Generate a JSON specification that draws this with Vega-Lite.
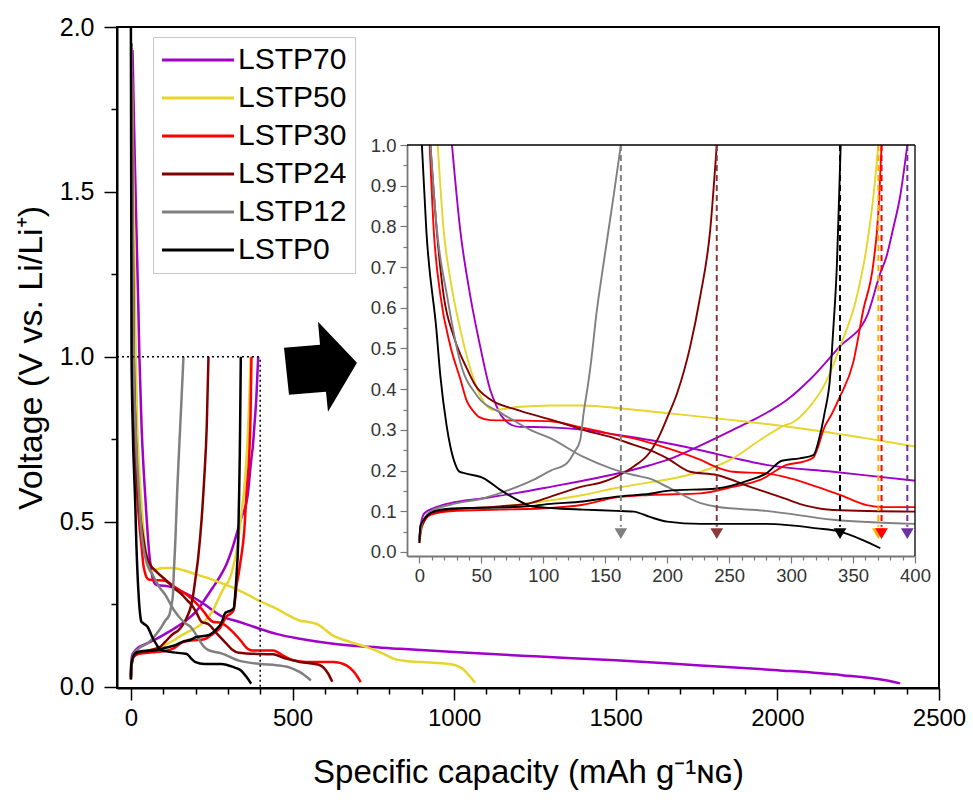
{
"$schema": "https://vega.github.io/schema/vega-lite/v6.json",
"width": 822, "height": 661,
"autosize": {"type": "none"},
"padding": {"left": 117, "top": 27, "right": 34, "bottom": 114},
"background": "white",
"config": {
  "view": {"stroke": "black", "strokeWidth": 2},
  "font": "Liberation Sans",
  "axis": {"grid": false, "labelFont": "Liberation Sans", "titleFont": "Liberation Sans", "titleFontWeight": "normal", "labelOverlap": false, "labelFlush": false}
},
"datasets": {
"curves": [
{"sample":"LSTP70","branch":"d","cap":5,"volt":1.93},{"sample":"LSTP70","branch":"d","cap":12,"volt":1.6},{"sample":"LSTP70","branch":"d","cap":18,"volt":1.35},{"sample":"LSTP70","branch":"d","cap":23,"volt":1.15},{"sample":"LSTP70","branch":"d","cap":26.3,"volt":1.0},{"sample":"LSTP70","branch":"d","cap":33,"volt":0.79},{"sample":"LSTP70","branch":"d","cap":41,"volt":0.63},{"sample":"LSTP70","branch":"d","cap":49,"volt":0.506},{"sample":"LSTP70","branch":"d","cap":57,"volt":0.4},{"sample":"LSTP70","branch":"d","cap":62,"volt":0.36},{"sample":"LSTP70","branch":"d","cap":66,"volt":0.335},{"sample":"LSTP70","branch":"d","cap":72,"volt":0.316},{"sample":"LSTP70","branch":"d","cap":79,"volt":0.308},{"sample":"LSTP70","branch":"d","cap":105,"volt":0.306},{"sample":"LSTP70","branch":"d","cap":132,"volt":0.3},{"sample":"LSTP70","branch":"d","cap":159,"volt":0.288},{"sample":"LSTP70","branch":"d","cap":186,"volt":0.275},{"sample":"LSTP70","branch":"d","cap":227,"volt":0.25},{"sample":"LSTP70","branch":"d","cap":255,"volt":0.23},{"sample":"LSTP70","branch":"d","cap":280,"volt":0.214},{"sample":"LSTP70","branch":"d","cap":334,"volt":0.197},{"sample":"LSTP70","branch":"d","cap":370,"volt":0.185},{"sample":"LSTP70","branch":"d","cap":400,"volt":0.175},{"sample":"LSTP70","branch":"d","cap":450,"volt":0.16},{"sample":"LSTP70","branch":"d","cap":523,"volt":0.145},{"sample":"LSTP70","branch":"d","cap":626,"volt":0.13},{"sample":"LSTP70","branch":"d","cap":833,"volt":0.115},{"sample":"LSTP70","branch":"d","cap":1000,"volt":0.105},{"sample":"LSTP70","branch":"d","cap":1250,"volt":0.092},{"sample":"LSTP70","branch":"d","cap":1500,"volt":0.08},{"sample":"LSTP70","branch":"d","cap":1750,"volt":0.065},{"sample":"LSTP70","branch":"d","cap":2000,"volt":0.05},{"sample":"LSTP70","branch":"d","cap":2200,"volt":0.035},{"sample":"LSTP70","branch":"d","cap":2330,"volt":0.02},{"sample":"LSTP70","branch":"d","cap":2380,"volt":0.01},
{"sample":"LSTP70","branch":"c","cap":0,"volt":0.035},{"sample":"LSTP70","branch":"c","cap":1,"volt":0.065},{"sample":"LSTP70","branch":"c","cap":4,"volt":0.095},{"sample":"LSTP70","branch":"c","cap":12,"volt":0.108},{"sample":"LSTP70","branch":"c","cap":25,"volt":0.12},{"sample":"LSTP70","branch":"c","cap":52,"volt":0.132},{"sample":"LSTP70","branch":"c","cap":79,"volt":0.145},{"sample":"LSTP70","branch":"c","cap":106,"volt":0.16},{"sample":"LSTP70","branch":"c","cap":132,"volt":0.175},{"sample":"LSTP70","branch":"c","cap":159,"volt":0.192},{"sample":"LSTP70","branch":"c","cap":186,"volt":0.213},{"sample":"LSTP70","branch":"c","cap":200,"volt":0.226},{"sample":"LSTP70","branch":"c","cap":227,"volt":0.262},{"sample":"LSTP70","branch":"c","cap":253,"volt":0.3},{"sample":"LSTP70","branch":"c","cap":270,"volt":0.325},{"sample":"LSTP70","branch":"c","cap":282,"volt":0.345},{"sample":"LSTP70","branch":"c","cap":296,"volt":0.372},{"sample":"LSTP70","branch":"c","cap":315,"volt":0.423},{"sample":"LSTP70","branch":"c","cap":339,"volt":0.504},{"sample":"LSTP70","branch":"c","cap":361,"volt":0.578},{"sample":"LSTP70","branch":"c","cap":372,"volt":0.685},{"sample":"LSTP70","branch":"c","cap":377,"volt":0.726},{"sample":"LSTP70","branch":"c","cap":382,"volt":0.79},{"sample":"LSTP70","branch":"c","cap":388,"volt":0.874},{"sample":"LSTP70","branch":"c","cap":393.8,"volt":1.0},
{"sample":"LSTP50","branch":"d","cap":3,"volt":1.85},{"sample":"LSTP50","branch":"d","cap":8,"volt":1.5},{"sample":"LSTP50","branch":"d","cap":12,"volt":1.2},{"sample":"LSTP50","branch":"d","cap":14.8,"volt":1.0},{"sample":"LSTP50","branch":"d","cap":19.6,"volt":0.79},{"sample":"LSTP50","branch":"d","cap":25,"volt":0.67},{"sample":"LSTP50","branch":"d","cap":33,"volt":0.547},{"sample":"LSTP50","branch":"d","cap":43.8,"volt":0.425},{"sample":"LSTP50","branch":"d","cap":52,"volt":0.368},{"sample":"LSTP50","branch":"d","cap":60,"volt":0.349},{"sample":"LSTP50","branch":"d","cap":70,"volt":0.352},{"sample":"LSTP50","branch":"d","cap":79,"volt":0.356},{"sample":"LSTP50","branch":"d","cap":106,"volt":0.36},{"sample":"LSTP50","branch":"d","cap":132,"volt":0.36},{"sample":"LSTP50","branch":"d","cap":165,"volt":0.352},{"sample":"LSTP50","branch":"d","cap":200,"volt":0.341},{"sample":"LSTP50","branch":"d","cap":253,"volt":0.324},{"sample":"LSTP50","branch":"d","cap":307,"volt":0.304},{"sample":"LSTP50","branch":"d","cap":361,"volt":0.279},{"sample":"LSTP50","branch":"d","cap":400,"volt":0.259},{"sample":"LSTP50","branch":"d","cap":451,"volt":0.236},{"sample":"LSTP50","branch":"d","cap":500,"volt":0.21},{"sample":"LSTP50","branch":"d","cap":523,"volt":0.2},{"sample":"LSTP50","branch":"d","cap":545,"volt":0.197},{"sample":"LSTP50","branch":"d","cap":575,"volt":0.19},{"sample":"LSTP50","branch":"d","cap":626,"volt":0.155},{"sample":"LSTP50","branch":"d","cap":680,"volt":0.135},{"sample":"LSTP50","branch":"d","cap":730,"volt":0.12},{"sample":"LSTP50","branch":"d","cap":780,"volt":0.1},{"sample":"LSTP50","branch":"d","cap":812,"volt":0.085},{"sample":"LSTP50","branch":"d","cap":850,"volt":0.078},{"sample":"LSTP50","branch":"d","cap":900,"volt":0.075},{"sample":"LSTP50","branch":"d","cap":990,"volt":0.068},{"sample":"LSTP50","branch":"d","cap":1025,"volt":0.055},{"sample":"LSTP50","branch":"d","cap":1045,"volt":0.035},{"sample":"LSTP50","branch":"d","cap":1065,"volt":0.012},
{"sample":"LSTP50","branch":"c","cap":0,"volt":0.026},{"sample":"LSTP50","branch":"c","cap":1.3,"volt":0.055},{"sample":"LSTP50","branch":"c","cap":9,"volt":0.095},{"sample":"LSTP50","branch":"c","cap":25,"volt":0.102},{"sample":"LSTP50","branch":"c","cap":52,"volt":0.108},{"sample":"LSTP50","branch":"c","cap":79,"volt":0.116},{"sample":"LSTP50","branch":"c","cap":106,"volt":0.127},{"sample":"LSTP50","branch":"c","cap":132,"volt":0.14},{"sample":"LSTP50","branch":"c","cap":159,"volt":0.157},{"sample":"LSTP50","branch":"c","cap":186,"volt":0.171},{"sample":"LSTP50","branch":"c","cap":200,"volt":0.178},{"sample":"LSTP50","branch":"c","cap":227,"volt":0.197},{"sample":"LSTP50","branch":"c","cap":253,"volt":0.23},{"sample":"LSTP50","branch":"c","cap":275,"volt":0.275},{"sample":"LSTP50","branch":"c","cap":294,"volt":0.31},{"sample":"LSTP50","branch":"c","cap":301,"volt":0.318},{"sample":"LSTP50","branch":"c","cap":313,"volt":0.35},{"sample":"LSTP50","branch":"c","cap":329,"volt":0.423},{"sample":"LSTP50","branch":"c","cap":339.5,"volt":0.504},{"sample":"LSTP50","branch":"c","cap":353,"volt":0.627},{"sample":"LSTP50","branch":"c","cap":361,"volt":0.75},{"sample":"LSTP50","branch":"c","cap":366.4,"volt":0.873},{"sample":"LSTP50","branch":"c","cap":370.4,"volt":1.0},
{"sample":"LSTP30","branch":"d","cap":2,"volt":1.95},{"sample":"LSTP30","branch":"d","cap":5,"volt":1.5},{"sample":"LSTP30","branch":"d","cap":8.3,"volt":1.0},{"sample":"LSTP30","branch":"d","cap":11.6,"volt":0.79},{"sample":"LSTP30","branch":"d","cap":17,"volt":0.63},{"sample":"LSTP30","branch":"d","cap":25,"volt":0.506},{"sample":"LSTP30","branch":"d","cap":33,"volt":0.425},{"sample":"LSTP30","branch":"d","cap":38.4,"volt":0.37},{"sample":"LSTP30","branch":"d","cap":43.8,"volt":0.345},{"sample":"LSTP30","branch":"d","cap":48,"volt":0.332},{"sample":"LSTP30","branch":"d","cap":57,"volt":0.324},{"sample":"LSTP30","branch":"d","cap":79,"volt":0.323},{"sample":"LSTP30","branch":"d","cap":106,"volt":0.321},{"sample":"LSTP30","branch":"d","cap":132,"volt":0.305},{"sample":"LSTP30","branch":"d","cap":146,"volt":0.296},{"sample":"LSTP30","branch":"d","cap":159,"volt":0.287},{"sample":"LSTP30","branch":"d","cap":173,"volt":0.279},{"sample":"LSTP30","branch":"d","cap":200,"volt":0.255},{"sample":"LSTP30","branch":"d","cap":227,"volt":0.226},{"sample":"LSTP30","branch":"d","cap":240,"volt":0.208},{"sample":"LSTP30","branch":"d","cap":253,"volt":0.197},{"sample":"LSTP30","branch":"d","cap":280,"volt":0.193},{"sample":"LSTP30","branch":"d","cap":294,"volt":0.185},{"sample":"LSTP30","branch":"d","cap":321,"volt":0.16},{"sample":"LSTP30","branch":"d","cap":339.5,"volt":0.14},{"sample":"LSTP30","branch":"d","cap":361,"volt":0.115},{"sample":"LSTP30","branch":"d","cap":375,"volt":0.11},{"sample":"LSTP30","branch":"d","cap":400,"volt":0.11},{"sample":"LSTP30","branch":"d","cap":440,"volt":0.11},{"sample":"LSTP30","branch":"d","cap":470,"volt":0.095},{"sample":"LSTP30","branch":"d","cap":502,"volt":0.08},{"sample":"LSTP30","branch":"d","cap":543,"volt":0.075},{"sample":"LSTP30","branch":"d","cap":626,"volt":0.075},{"sample":"LSTP30","branch":"d","cap":668,"volt":0.064},{"sample":"LSTP30","branch":"d","cap":690,"volt":0.045},{"sample":"LSTP30","branch":"d","cap":711,"volt":0.014},
{"sample":"LSTP30","branch":"c","cap":0,"volt":0.022},{"sample":"LSTP30","branch":"c","cap":2.2,"volt":0.063},{"sample":"LSTP30","branch":"c","cap":9,"volt":0.091},{"sample":"LSTP30","branch":"c","cap":25,"volt":0.1},{"sample":"LSTP30","branch":"c","cap":65,"volt":0.104},{"sample":"LSTP30","branch":"c","cap":106,"volt":0.108},{"sample":"LSTP30","branch":"c","cap":132,"volt":0.116},{"sample":"LSTP30","branch":"c","cap":159,"volt":0.134},{"sample":"LSTP30","branch":"c","cap":186,"volt":0.14},{"sample":"LSTP30","branch":"c","cap":227,"volt":0.144},{"sample":"LSTP30","branch":"c","cap":253,"volt":0.16},{"sample":"LSTP30","branch":"c","cap":275,"volt":0.177},{"sample":"LSTP30","branch":"c","cap":296.5,"volt":0.214},{"sample":"LSTP30","branch":"c","cap":310,"volt":0.222},{"sample":"LSTP30","branch":"c","cap":318,"volt":0.232},{"sample":"LSTP30","branch":"c","cap":322,"volt":0.26},{"sample":"LSTP30","branch":"c","cap":326,"volt":0.3},{"sample":"LSTP30","branch":"c","cap":333,"volt":0.34},{"sample":"LSTP30","branch":"c","cap":339.5,"volt":0.382},{"sample":"LSTP30","branch":"c","cap":350,"volt":0.464},{"sample":"LSTP30","branch":"c","cap":358.3,"volt":0.595},{"sample":"LSTP30","branch":"c","cap":366.4,"volt":0.709},{"sample":"LSTP30","branch":"c","cap":370.4,"volt":0.832},{"sample":"LSTP30","branch":"c","cap":373,"volt":1.0},
{"sample":"LSTP24","branch":"d","cap":2,"volt":1.79},{"sample":"LSTP24","branch":"d","cap":5,"volt":1.4},{"sample":"LSTP24","branch":"d","cap":8.9,"volt":1.0},{"sample":"LSTP24","branch":"d","cap":14,"volt":0.79},{"sample":"LSTP24","branch":"d","cap":19.6,"volt":0.63},{"sample":"LSTP24","branch":"d","cap":27.7,"volt":0.53},{"sample":"LSTP24","branch":"d","cap":38.4,"volt":0.45},{"sample":"LSTP24","branch":"d","cap":45,"volt":0.41},{"sample":"LSTP24","branch":"d","cap":57,"volt":0.375},{"sample":"LSTP24","branch":"d","cap":79,"volt":0.349},{"sample":"LSTP24","branch":"d","cap":106,"volt":0.325},{"sample":"LSTP24","branch":"d","cap":132,"volt":0.3},{"sample":"LSTP24","branch":"d","cap":159,"volt":0.278},{"sample":"LSTP24","branch":"d","cap":173,"volt":0.263},{"sample":"LSTP24","branch":"d","cap":186,"volt":0.25},{"sample":"LSTP24","branch":"d","cap":200,"volt":0.23},{"sample":"LSTP24","branch":"d","cap":218.5,"volt":0.197},{"sample":"LSTP24","branch":"d","cap":240,"volt":0.189},{"sample":"LSTP24","branch":"d","cap":267,"volt":0.16},{"sample":"LSTP24","branch":"d","cap":294,"volt":0.132},{"sample":"LSTP24","branch":"d","cap":312.7,"volt":0.113},{"sample":"LSTP24","branch":"d","cap":334,"volt":0.103},{"sample":"LSTP24","branch":"d","cap":400,"volt":0.099},{"sample":"LSTP24","branch":"d","cap":440,"volt":0.098},{"sample":"LSTP24","branch":"d","cap":480,"volt":0.085},{"sample":"LSTP24","branch":"d","cap":523,"volt":0.075},{"sample":"LSTP24","branch":"d","cap":585,"volt":0.065},{"sample":"LSTP24","branch":"d","cap":610,"volt":0.04},{"sample":"LSTP24","branch":"d","cap":623,"volt":0.015},
{"sample":"LSTP24","branch":"c","cap":0,"volt":0.03},{"sample":"LSTP24","branch":"c","cap":0.8,"volt":0.055},{"sample":"LSTP24","branch":"c","cap":9,"volt":0.095},{"sample":"LSTP24","branch":"c","cap":25,"volt":0.104},{"sample":"LSTP24","branch":"c","cap":65,"volt":0.112},{"sample":"LSTP24","branch":"c","cap":89.5,"volt":0.12},{"sample":"LSTP24","branch":"c","cap":106,"volt":0.136},{"sample":"LSTP24","branch":"c","cap":132,"volt":0.161},{"sample":"LSTP24","branch":"c","cap":146,"volt":0.17},{"sample":"LSTP24","branch":"c","cap":159,"volt":0.185},{"sample":"LSTP24","branch":"c","cap":173,"volt":0.21},{"sample":"LSTP24","branch":"c","cap":186,"volt":0.245},{"sample":"LSTP24","branch":"c","cap":192,"volt":0.275},{"sample":"LSTP24","branch":"c","cap":200,"volt":0.33},{"sample":"LSTP24","branch":"c","cap":208,"volt":0.39},{"sample":"LSTP24","branch":"c","cap":218.5,"volt":0.504},{"sample":"LSTP24","branch":"c","cap":226.6,"volt":0.627},{"sample":"LSTP24","branch":"c","cap":234.7,"volt":0.791},{"sample":"LSTP24","branch":"c","cap":240,"volt":1.0},
{"sample":"LSTP12","branch":"d","cap":2,"volt":1.95},{"sample":"LSTP12","branch":"d","cap":5,"volt":1.5},{"sample":"LSTP12","branch":"d","cap":8.9,"volt":1.0},{"sample":"LSTP12","branch":"d","cap":14.2,"volt":0.79},{"sample":"LSTP12","branch":"d","cap":22.3,"volt":0.63},{"sample":"LSTP12","branch":"d","cap":33,"volt":0.466},{"sample":"LSTP12","branch":"d","cap":46.5,"volt":0.384},{"sample":"LSTP12","branch":"d","cap":65,"volt":0.343},{"sample":"LSTP12","branch":"d","cap":75,"volt":0.325},{"sample":"LSTP12","branch":"d","cap":89.5,"volt":0.3},{"sample":"LSTP12","branch":"d","cap":106,"volt":0.279},{"sample":"LSTP12","branch":"d","cap":132,"volt":0.234},{"sample":"LSTP12","branch":"d","cap":154,"volt":0.206},{"sample":"LSTP12","branch":"d","cap":173,"volt":0.189},{"sample":"LSTP12","branch":"d","cap":186,"volt":0.18},{"sample":"LSTP12","branch":"d","cap":200,"volt":0.16},{"sample":"LSTP12","branch":"d","cap":227,"volt":0.12},{"sample":"LSTP12","branch":"d","cap":240,"volt":0.111},{"sample":"LSTP12","branch":"d","cap":280,"volt":0.101},{"sample":"LSTP12","branch":"d","cap":334,"volt":0.079},{"sample":"LSTP12","branch":"d","cap":400,"volt":0.069},{"sample":"LSTP12","branch":"d","cap":451,"volt":0.065},{"sample":"LSTP12","branch":"d","cap":500,"volt":0.055},{"sample":"LSTP12","branch":"d","cap":523,"volt":0.044},{"sample":"LSTP12","branch":"d","cap":557,"volt":0.019},
{"sample":"LSTP12","branch":"c","cap":0,"volt":0.03},{"sample":"LSTP12","branch":"c","cap":2.2,"volt":0.071},{"sample":"LSTP12","branch":"c","cap":9,"volt":0.1},{"sample":"LSTP12","branch":"c","cap":25,"volt":0.116},{"sample":"LSTP12","branch":"c","cap":52,"volt":0.132},{"sample":"LSTP12","branch":"c","cap":73,"volt":0.153},{"sample":"LSTP12","branch":"c","cap":92,"volt":0.177},{"sample":"LSTP12","branch":"c","cap":106,"volt":0.2},{"sample":"LSTP12","branch":"c","cap":119,"volt":0.218},{"sample":"LSTP12","branch":"c","cap":125,"volt":0.245},{"sample":"LSTP12","branch":"c","cap":129.8,"volt":0.275},{"sample":"LSTP12","branch":"c","cap":132.5,"volt":0.34},{"sample":"LSTP12","branch":"c","cap":136.6,"volt":0.422},{"sample":"LSTP12","branch":"c","cap":138.5,"volt":0.466},{"sample":"LSTP12","branch":"c","cap":143,"volt":0.588},{"sample":"LSTP12","branch":"c","cap":148.7,"volt":0.71},{"sample":"LSTP12","branch":"c","cap":156.7,"volt":0.874},{"sample":"LSTP12","branch":"c","cap":162.6,"volt":1.0},
{"sample":"LSTP0","branch":"d","cap":0,"volt":2.0},{"sample":"LSTP0","branch":"d","cap":1,"volt":1.5},{"sample":"LSTP0","branch":"d","cap":2,"volt":1.0},{"sample":"LSTP0","branch":"d","cap":5.6,"volt":0.79},{"sample":"LSTP0","branch":"d","cap":13.7,"volt":0.547},{"sample":"LSTP0","branch":"d","cap":17,"volt":0.43},{"sample":"LSTP0","branch":"d","cap":22,"volt":0.31},{"sample":"LSTP0","branch":"d","cap":25,"volt":0.259},{"sample":"LSTP0","branch":"d","cap":29,"volt":0.215},{"sample":"LSTP0","branch":"d","cap":32,"volt":0.198},{"sample":"LSTP0","branch":"d","cap":37,"volt":0.193},{"sample":"LSTP0","branch":"d","cap":52,"volt":0.181},{"sample":"LSTP0","branch":"d","cap":65,"volt":0.153},{"sample":"LSTP0","branch":"d","cap":79,"volt":0.128},{"sample":"LSTP0","branch":"d","cap":89.5,"volt":0.113},{"sample":"LSTP0","branch":"d","cap":106,"volt":0.108},{"sample":"LSTP0","branch":"d","cap":132,"volt":0.104},{"sample":"LSTP0","branch":"d","cap":159,"volt":0.101},{"sample":"LSTP0","branch":"d","cap":173,"volt":0.099},{"sample":"LSTP0","branch":"d","cap":186,"volt":0.086},{"sample":"LSTP0","branch":"d","cap":200,"volt":0.0745},{"sample":"LSTP0","branch":"d","cap":227,"volt":0.069},{"sample":"LSTP0","branch":"d","cap":280,"volt":0.069},{"sample":"LSTP0","branch":"d","cap":320.7,"volt":0.058},{"sample":"LSTP0","branch":"d","cap":339.5,"volt":0.05},{"sample":"LSTP0","branch":"d","cap":358,"volt":0.029},{"sample":"LSTP0","branch":"d","cap":372,"volt":0.009},
{"sample":"LSTP0","branch":"c","cap":0,"volt":0.022},{"sample":"LSTP0","branch":"c","cap":0.8,"volt":0.063},{"sample":"LSTP0","branch":"c","cap":3.5,"volt":0.079},{"sample":"LSTP0","branch":"c","cap":9,"volt":0.0955},{"sample":"LSTP0","branch":"c","cap":17,"volt":0.104},{"sample":"LSTP0","branch":"c","cap":38,"volt":0.108},{"sample":"LSTP0","branch":"c","cap":65,"volt":0.109},{"sample":"LSTP0","branch":"c","cap":90,"volt":0.113},{"sample":"LSTP0","branch":"c","cap":106,"volt":0.118},{"sample":"LSTP0","branch":"c","cap":132,"volt":0.124},{"sample":"LSTP0","branch":"c","cap":159,"volt":0.136},{"sample":"LSTP0","branch":"c","cap":186,"volt":0.143},{"sample":"LSTP0","branch":"c","cap":200,"volt":0.15},{"sample":"LSTP0","branch":"c","cap":240,"volt":0.156},{"sample":"LSTP0","branch":"c","cap":267,"volt":0.177},{"sample":"LSTP0","branch":"c","cap":280,"volt":0.193},{"sample":"LSTP0","branch":"c","cap":292.5,"volt":0.224},{"sample":"LSTP0","branch":"c","cap":307,"volt":0.23},{"sample":"LSTP0","branch":"c","cap":318,"volt":0.238},{"sample":"LSTP0","branch":"c","cap":323,"volt":0.283},{"sample":"LSTP0","branch":"c","cap":327,"volt":0.341},{"sample":"LSTP0","branch":"c","cap":331.5,"volt":0.43},{"sample":"LSTP0","branch":"c","cap":334,"volt":0.545},{"sample":"LSTP0","branch":"c","cap":337,"volt":0.709},{"sample":"LSTP0","branch":"c","cap":338.5,"volt":0.848},{"sample":"LSTP0","branch":"c","cap":340,"volt":1.0}
],
"markers": [
{"sample":"LSTP12","cap":162.6},{"sample":"LSTP24","cap":240},{"sample":"LSTP0","cap":339.5},{"sample":"LSTP50","cap":370.4},{"sample":"LSTP30","cap":373},{"sample":"LSTP70","cap":393.8}
]
},
"layer": [
{
  "layer": [
    {
      "data": {"name": "curves"},
      "mark": {"type": "line", "strokeWidth": 2.5, "clip": true, "interpolate": "monotone"},
      "encoding": {
        "x": {"field": "cap", "type": "quantitative", "scale": {"domain": [-43, 2500], "nice": false, "zero": false},
              "axis": {"orient": "bottom", "values": [0,500,1000,1500,2000,2500], "format": "d", "labelFont": "Liberation Sans Narrow, Liberation Sans", "title": "Specific capacity (mAh g⁻¹ɴɢ)", "titleFontSize": 33, "titlePadding": 26, "titleColor": "black", "labelFontSize": 24, "labelColor": "black", "tickSize": 12, "tickColor": "black", "tickWidth": 1.5, "domainColor": "black", "domainWidth": 2, "labelPadding": 6}},
        "y": {"field": "volt", "type": "quantitative", "scale": {"domain": [-0.004, 2], "nice": false, "zero": false},
              "axis": {"orient": "left", "values": [0,0.5,1,1.5,2], "format": ".1f", "title": "Voltage (V vs. Li/Li⁺)", "titleFontSize": 34, "titlePadding": 11, "titleColor": "black", "labelFontSize": 25, "labelColor": "black", "tickSize": 13, "tickColor": "black", "tickWidth": 1.5, "domainColor": "black", "domainWidth": 2, "labelPadding": 10}},
        "color": {"field": "sample", "type": "nominal",
                  "scale": {"domain": ["LSTP70","LSTP50","LSTP30","LSTP24","LSTP12","LSTP0"], "range": ["#A000C8","#E6D52A","#FF0000","#800000","#808080","#000000"]},
                  "legend": {"title": null, "orient": "none", "legendX": 36, "legendY": 10, "symbolType": "M-3,0H3", "symbolSize": 576, "symbolStrokeWidth": 3, "labelFontSize": 30, "labelFont": "Liberation Sans", "labelColor": "black", "strokeColor": "#c8c8c8", "fillColor": "white", "padding": 8, "rowPadding": 8, "symbolOffset": 22, "labelOffset": 25}},
        "detail": {"field": "branch"}
      }
    },
    {
      "data": {"values": [{}]},
      "mark": {"type": "rule", "strokeDash": [2, 3], "strokeWidth": 1.5, "color": "black"},
      "encoding": {
        "x": {"datum": -43, "type": "quantitative", "scale": {"domain": [-43, 2500], "nice": false, "zero": false},
              "axis": {"orient": "bottom", "values": [100,200,300,400,600,700,800,900,1100,1200,1300,1400,1600,1700,1800,1900,2100,2200,2300,2400], "labels": false, "domain": false, "title": null, "tickSize": 6, "tickColor": "black", "tickWidth": 1.5}},
        "x2": {"datum": 400},
        "y": {"datum": 1, "type": "quantitative", "scale": {"domain": [-0.004, 2], "nice": false, "zero": false},
              "axis": {"orient": "left", "values": [0.25,0.75,1.25,1.75], "labels": false, "domain": false, "title": null, "tickSize": 6, "tickColor": "black", "tickWidth": 1.5}}
      }
    },
    {
      "data": {"values": [{}]},
      "mark": {"type": "rule", "strokeDash": [2, 3], "strokeWidth": 1.5, "color": "black"},
      "encoding": {
        "x": {"datum": 400, "type": "quantitative", "axis": null},
        "y": {"datum": 0, "type": "quantitative", "axis": null},
        "y2": {"datum": 1}
      }
    },
    {
      "data": {"values": [{}]},
      "mark": {"type": "point", "shape": "M-0.9,-0.475L0,-0.55L-0.05,-1.125L0.925,-0.1L0.2,1.125L0.15,0.625L-0.775,0.7Z", "size": 6400, "filled": true, "color": "black", "opacity": 1, "strokeWidth": 0},
      "encoding": {
        "x": {"datum": 585, "type": "quantitative", "axis": null},
        "y": {"datum": 0.97, "type": "quantitative", "axis": null}
      }
    }
  ],
  "resolve": {"axis": {"x": "independent", "y": "independent"}}
},
{
  "layer": [
    {
      "data": {"name": "curves"},
      "transform": [{"filter": "datum.cap <= 400 && datum.volt <= 1.0"}],
      "mark": {"type": "line", "strokeWidth": 1.9, "interpolate": "monotone"},
      "encoding": {
        "x": {"field": "cap", "type": "quantitative", "scale": {"domain": [-10, 400], "range": [290, 798], "nice": false, "zero": false},
              "axis": {"orient": "bottom", "offset": -132, "values": [0,50,100,150,200,250,300,350,400], "title": null, "labelFontSize": 18.5, "labelColor": "#333333", "tickSize": 7, "tickColor": "#777777", "tickWidth": 1.2, "domainColor": "#777777", "domainWidth": 1.8, "labelPadding": 3}},
        "y": {"field": "volt", "type": "quantitative", "scale": {"domain": [-0.01, 1], "range": [529, 118], "nice": false, "zero": false},
              "axis": {"orient": "left", "offset": -290, "values": [0,0.1,0.2,0.3,0.4,0.5,0.6,0.7,0.8,0.9,1.0], "format": ".1f", "title": null, "labelFontSize": 18.5, "labelColor": "#333333", "tickSize": 7, "tickColor": "#777777", "tickWidth": 1.2, "domainColor": "#777777", "domainWidth": 1.8, "labelPadding": 4}},
        "color": {"field": "sample", "type": "nominal",
                  "scale": {"domain": ["LSTP70","LSTP50","LSTP30","LSTP24","LSTP12","LSTP0"], "range": ["#A000C8","#E6D52A","#FF0000","#800000","#808080","#000000"]},
                  "legend": null},
        "detail": {"field": "branch"}
      }
    },
    {
      "data": {"name": "markers"},
      "mark": {"type": "rule", "strokeDash": [6, 4], "strokeWidth": 2},
      "encoding": {
        "x": {"field": "cap", "type": "quantitative", "scale": {"domain": [-10, 400], "range": [290, 798], "nice": false, "zero": false},
              "axis": {"orient": "bottom", "offset": -132, "values": [10,20,30,40,60,70,80,90,110,120,130,140,160,170,180,190,210,220,230,240,260,270,280,290,310,320,330,340,360,370,380,390], "labels": false, "domain": false, "title": null, "tickSize": 4, "tickColor": "#777777", "tickWidth": 1.2}},
        "y": {"datum": 1.0, "type": "quantitative", "scale": {"domain": [-0.01, 1], "range": [529, 118], "nice": false, "zero": false},
              "axis": {"orient": "left", "offset": -290, "values": [0.05,0.15,0.25,0.35,0.45,0.55,0.65,0.75,0.85,0.95], "labels": false, "domain": false, "title": null, "tickSize": 4, "tickColor": "#777777", "tickWidth": 1.2}},
        "y2": {"datum": 0.062},
        "stroke": {"field": "sample", "type": "nominal",
                   "scale": {"domain": ["LSTP12","LSTP24","LSTP0","LSTP50","LSTP30","LSTP70"], "range": ["#808080","#8B3A3A","#000000","#FFB000","#FF0000","#7030A0"]},
                   "legend": null}
      }
    },
    {
      "data": {"name": "markers"},
      "mark": {"type": "point", "shape": "triangle-down", "filled": true, "size": 160, "opacity": 1},
      "encoding": {
        "x": {"field": "cap", "type": "quantitative", "axis": null},
        "y": {"datum": 0.045, "type": "quantitative", "axis": null},
        "fill": {"field": "sample", "type": "nominal",
                 "scale": {"domain": ["LSTP12","LSTP24","LSTP0","LSTP50","LSTP30","LSTP70"], "range": ["#808080","#8B3A3A","#000000","#FFB000","#FF0000","#7030A0"]},
                 "legend": null}
      }
    },
    {
      "data": {"values": [{}]},
      "mark": {"type": "rule", "color": "black", "strokeWidth": 1.3},
      "encoding": {
        "x": {"datum": -10, "type": "quantitative", "axis": null},
        "x2": {"datum": 400},
        "y": {"datum": 1.0, "type": "quantitative", "axis": null}
      }
    },
    {
      "data": {"values": [{}]},
      "mark": {"type": "rule", "color": "black", "strokeWidth": 1.3},
      "encoding": {
        "x": {"datum": 400, "type": "quantitative", "axis": null},
        "y": {"datum": -0.01, "type": "quantitative", "axis": null},
        "y2": {"datum": 1.0}
      }
    }
  ],
  "resolve": {"axis": {"x": "independent", "y": "independent"}}
}
],
"resolve": {"scale": {"x": "independent", "y": "independent", "color": "independent"}}
}
